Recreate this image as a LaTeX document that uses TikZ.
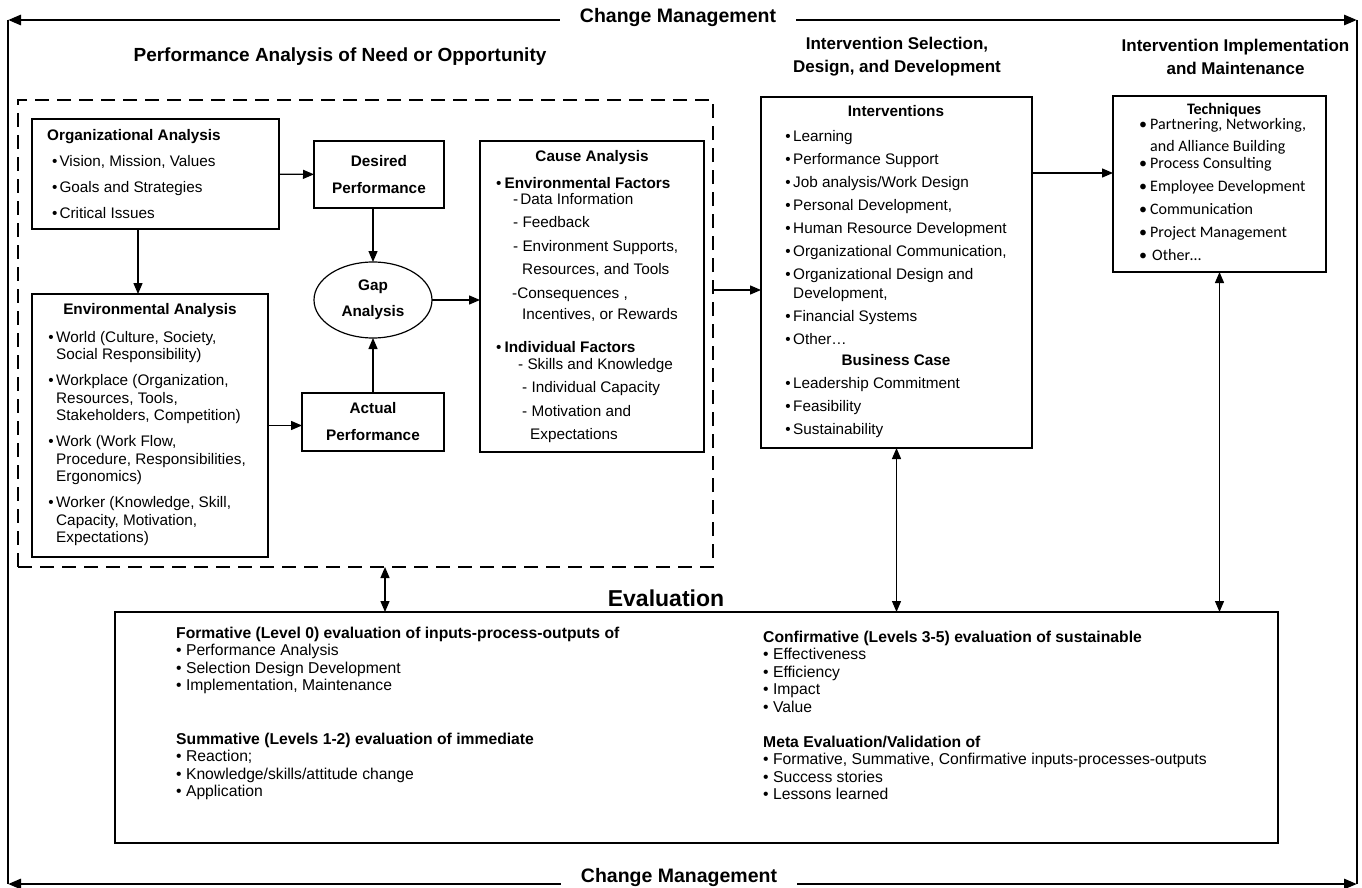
\documentclass[tikz,border=0pt]{standalone}
\usepackage{fontspec}
\setmainfont{Liberation Sans}
\newfontfamily\techfont{Carlito}
\usetikzlibrary{arrows.meta,shapes.geometric,positioning}
\newcommand{\topline}{\rule{0pt}{12pt}}
\newcommand{\pbul}{\llap{•\hspace{2.5pt}}}
\begin{document}
\begin{tikzpicture}[x=1pt,y=-1pt,
  box/.style={draw,line width=1.2pt,inner sep=0pt,outer sep=0pt},
  dashbox/.style={draw,line width=2.5pt,dash pattern=on 14pt off 8pt,inner sep=0pt,outer sep=0pt},
  arr/.style={line width=1.3pt,-{Triangle[length=11pt,width=9pt]}},
  darr/.style={line width=1.3pt,{Triangle[length=11pt,width=9pt]}-{Triangle[length=11pt,width=9pt]}},
  frameline/.style={line width=2.8pt},
  farr/.style={frameline,-{Triangle[length=13pt,width=10pt]}},
  body/.style={font=\fontsize{15.3}{17.5}\selectfont,align=left,anchor=north west,inner sep=0pt},
  evalbody/.style={body,font=\fontsize{15.7}{17.5}\selectfont},
  bhead/.style={font=\fontsize{15.3}{17.5}\selectfont\bfseries,anchor=base,inner sep=0pt},
  twoline/.style={font=\fontsize{15.3}{27}\selectfont\bfseries,align=center},
  sectitle/.style={font=\fontsize{17}{23}\selectfont\bfseries,align=center},
  mgmt/.style={font=\fontsize{19.5}{20}\selectfont\bfseries,inner xsep=20pt}]
\useasboundingbox (0,0) rectangle (1362,888);

% change management frame
\coordinate (tl) at (8,20);
\coordinate (tr) at (1357,20);
\coordinate (bl) at (8,884);
\coordinate (br) at (1357,884);
\node[mgmt] (cmtop) at (678,18) {Change Management};
\node[mgmt] (cmbot) at (679,877) {Change Management};
\draw[farr] (tl -| cmtop.west) -- (tl);
\draw[farr] (tr -| cmtop.east) -- (tr);
\draw[farr] (bl -| cmbot.west) -- (bl);
\draw[farr] (br -| cmbot.east) -- (br);
\draw[frameline] (tl) -- (bl);
\draw[frameline] (tr) -- (br);

% section titles
\node[sectitle,font=\fontsize{19}{23}\selectfont\bfseries] (patitle) at (340,57) {Performance Analysis of Need or Opportunity};
\node[sectitle] (istitle) at (897,57) {Intervention Selection,\\Design, and Development};
\node[sectitle] (imtitle) at (1235.5,57) {Intervention Implementation\\and Maintenance};

% performance analysis
\node[dashbox,minimum width=695,minimum height=467] (pa) at (365.5,333.5) {};
\node[box,minimum width=247,minimum height=110] (org) at (155.5,174) {};
\node[body,font=\fontsize{15.3}{26}\selectfont] (orgtext) at (47,128) {\topline\textbf{Organizational Analysis}\\
  \hspace*{5pt}•\hspace{2pt}Vision, Mission, Values\\
  \hspace*{5pt}•\hspace{2pt}Goals and Strategies\\
  \hspace*{5pt}•\hspace{2pt}Critical Issues};
\node[box,twoline,minimum width=130,minimum height=67] (des) at (379,174.5) {Desired\\Performance};
\node[draw,line width=1.2pt,ellipse,minimum width=118,minimum height=76,inner sep=0pt,outer sep=0pt,
  font=\fontsize{15.3}{26}\selectfont\bfseries,align=center] (gap) at (373,300) {Gap\\Analysis};
\node[box,twoline,minimum width=142,minimum height=58] (act) at (373,422) {Actual\\Performance};
\node[box,minimum width=236,minimum height=263] (env) at (150,425.5) {};
\node[bhead] (envtitle) at (150,314) {Environmental Analysis};
\node[body] (envtext) at (56,330) {\topline\pbul World (Culture, Society,\\
  Social Responsibility)\\[8.5pt]
  \pbul Workplace (Organization,\\
  Resources, Tools,\\
  Stakeholders, Competition)\\[8.5pt]
  \pbul Work (Work Flow,\\
  Procedure, Responsibilities,\\
  Ergonomics)\\[8.5pt]
  \pbul Worker (Knowledge, Skill,\\
  Capacity, Motivation,\\
  Expectations)};
\node[box,minimum width=224,minimum height=311] (cause) at (592,296.5) {};
\node[bhead] (causetitle) at (592,161) {Cause Analysis};
\node[body,font=\fontsize{15.3}{23.5}\selectfont] (causetext) at (496,176) {\topline•\hspace{3pt}\textbf{Environmental Factors}\\[-7.5pt]
  \hspace*{17pt}-\hspace{2pt}Data Information\\
  \hspace*{17pt}- Feedback\\
  \hspace*{17pt}- Environment Supports,\\
  \hspace*{26pt}Resources, and Tools\\
  \hspace*{16pt}-Consequences ,\\[-2pt]
  \hspace*{26pt}Incentives, or Rewards\\[9pt]
  •\hspace{3pt}\textbf{Individual Factors}\\[-6.5pt]
  \hspace*{22pt}- Skills and Knowledge\\
  \hspace*{26pt}- Individual Capacity\\
  \hspace*{26pt}- Motivation and\\
  \hspace*{34pt}Expectations};

% intervention selection
\node[box,minimum width=271,minimum height=351] (iv) at (896.5,272.5) {};
\node[bhead] (ivtitle) at (896,117) {Interventions};
\node[body,font=\fontsize{15.3}{23}\selectfont] (ivtext) at (793,129) {\topline\pbul Learning\\
  \pbul Performance Support\\
  \pbul Job analysis/Work Design\\
  \pbul Personal Development,\\
  \pbul Human Resource Development\\
  \pbul Organizational Communication,\\
  \pbul Organizational Design and\\[-4pt]
  Development,\\
  \pbul Financial Systems\\
  \pbul Other…};
\node[bhead] (bctitle) at (896,365) {Business Case};
\node[body,font=\fontsize{15.3}{23}\selectfont] (bctext) at (793,376) {\topline\pbul Leadership Commitment\\
  \pbul Feasibility\\
  \pbul Sustainability};

% intervention implementation
\node[box,minimum width=213,minimum height=176] (tech) at (1219.5,184) {};
\node[bhead,font=\techfont\fontsize{16}{23}\selectfont\bfseries] (techtitle) at (1224,115) {Techniques};
\node[body,font=\techfont\fontsize{16}{23}\selectfont] (techtext) at (1150,117.5) {\topline\llap{•\hspace{3pt}}Partnering, Networking,\\[-1pt]
  and Alliance Building\\[-6pt]
  \llap{•\hspace{3pt}}Process Consulting\\
  \llap{•\hspace{3pt}}Employee Development\\
  \llap{•\hspace{3pt}}Communication\\
  \llap{•\hspace{3pt}}Project Management\\
  \llap{•\hspace{3pt}}\hspace{2pt}Other…};

% evaluation
\node[box,minimum width=1163,minimum height=231] (eval) at (696.5,727.5) {};
\node[font=\fontsize{23}{25}\selectfont\bfseries] (evaltitle) at (666,598) {Evaluation};
\node[evalbody] (formative) at (176,626) {\topline\textbf{Formative (Level 0) evaluation of inputs-process-outputs of}\\
  • Performance Analysis\\
  • Selection Design Development\\
  • Implementation, Maintenance};
\node[evalbody] (summative) at (176,732) {\topline\textbf{Summative (Levels 1-2) evaluation of immediate}\\
  • Reaction;\\
  • Knowledge/skills/attitude change\\
  • Application};
\node[evalbody] (confirm) at (763,630) {\topline\textbf{Confirmative (Levels 3-5) evaluation of sustainable}\\
  • Effectiveness\\
  • Efficiency\\
  • Impact\\
  • Value};
\node[evalbody] (meta) at (763,735) {\topline\textbf{Meta Evaluation/Validation of}\\
  • Formative, Summative, Confirmative inputs-processes-outputs\\
  • Success stories\\
  • Lessons learned};

% connectors
\draw[arr] (org) -- (des);
\coordinate (orgout) at ([xshift=-17.5pt]org.south);
\draw[arr] (orgout) -- (orgout |- env.north);
\draw[arr] (des.south -| gap.north) -- (gap.north);
\draw[arr] (act) -- (gap);
\draw[arr] (env.east) -- (env.east -| act.west);
\draw[arr] (gap) -- (gap -| cause.west);
\coordinate (paout) at ([yshift=43.5pt]pa.east);
\draw[arr] (paout) -- (paout -| iv.west);
\coordinate (ivout) at ([yshift=99.5pt]iv.east);
\draw[arr] (ivout) -- (ivout -| tech.west);
\coordinate (paeval) at ([xshift=19.5pt]pa.south);
\draw[darr] (paeval) -- (paeval |- eval.north);
\draw[darr] (iv.south) -- (iv.south |- eval.north);
\draw[darr] (tech.south) -- (tech.south |- eval.north);
\end{tikzpicture}
\end{document}
